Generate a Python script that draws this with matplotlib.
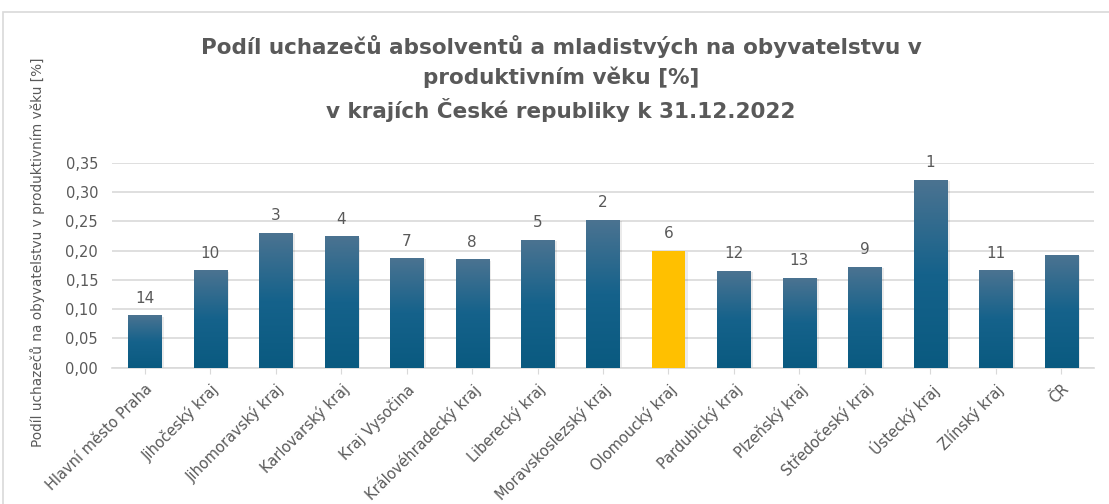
import numpy as np
import matplotlib.pyplot as plt
from matplotlib.colors import LinearSegmentedColormap
from matplotlib.patches import Rectangle

# podil uchazecu (absolventi a mladistvi) na obyvatelstvu v produktivnim veku
kraje = ['Hlavní město Praha', 'Jihočeský kraj', 'Jihomoravský kraj', 'Karlovarský kraj',
         'Kraj Vysočina', 'Královéhradecký kraj', 'Liberecký kraj', 'Moravskoslezský kraj',
         'Olomoucký kraj', 'Pardubický kraj', 'Plzeňský kraj', 'Středočeský kraj',
         'Ústecký kraj', 'Zlínský kraj', 'ČR']
podil = [0.089, 0.166, 0.230, 0.224, 0.187, 0.185, 0.218, 0.252,
         0.200, 0.165, 0.153, 0.172, 0.321, 0.166, 0.192]
poradi = ['14', '10', '3', '4', '7', '8', '5', '2', '6', '12', '13', '9', '1', '11', '']
zvyraznit = 'Olomoucký kraj'

sedo = '#595959'
plt.rcParams['font.family'] = ['DejaVu Sans']

fig = plt.figure(figsize=(11.09, 5.04), dpi=100)
ax = fig.add_axes([0.101, 0.2704, 0.8855, 0.4067])

# ramecek grafu
fig.patches.append(Rectangle((0.003, -0.01), 1.1, 0.986, transform=fig.transFigure,
                             fill=False, edgecolor='#d9d9d9', linewidth=1.2))

x = np.arange(len(kraje))
sirka = 0.505
cmap = LinearSegmentedColormap.from_list('modra', ['#0a5a80', '#15628b', '#4b7391'])
grad = np.linspace(0, 1, 256).reshape(-1, 1)

bars = ax.bar(x, podil, width=sirka, color='none', zorder=3)
for b, kraj, r in zip(bars, kraje, poradi):
    x0, w, h = b.get_x(), b.get_width(), b.get_height()
    # jemny stin pod sloupcem
    ax.add_patch(Rectangle((x0 + 0.02, 0), w + 0.02, h - 0.002, facecolor='#000000',
                           alpha=0.08, edgecolor='none', zorder=2))
    if kraj == zvyraznit:
        ax.add_patch(Rectangle((x0, 0), w, h, facecolor='#ffc000', edgecolor='none', zorder=3))
    else:
        ax.imshow(grad, extent=(x0, x0 + w, 0, h), origin='lower', cmap=cmap,
                  aspect='auto', zorder=3)
    if r:
        ax.text(b.get_x() + w / 2, h + 0.0165, r, ha='center', va='bottom',
                fontsize=11, color=sedo)

ax.set_xlim(-0.5, len(kraje) - 0.5)
ax.set_ylim(0, 0.35)
ax.set_yticks(np.arange(0, 0.351, 0.05))
ax.set_yticklabels([f'{v:.2f}'.replace('.', ',') for v in np.arange(0, 0.351, 0.05)],
                   fontsize=10.5, color=sedo)
ax.set_xticks(x)
ax.set_xticklabels(kraje, rotation=45, ha='right', rotation_mode='anchor',
                   fontsize=10.5, color=sedo)
ax.tick_params(axis='y', length=0, pad=10)
ax.tick_params(axis='x', length=4, color='#d9d9d9', pad=6)
ax.grid(axis='y', color='#d9d9d9', linewidth=1.2, zorder=0)
ax.set_axisbelow(True)
for s in ['top', 'right', 'left']:
    ax.spines[s].set_visible(False)
ax.spines['bottom'].set_color('#d9d9d9')
ax.spines['bottom'].set_linewidth(1.2)

fig.text(0.034, 0.50, 'Podíl uchazečů na obyvatelstvu v produktivním věku [%]',
         rotation=90, ha='center', va='center', fontsize=9.8, color=sedo)

fig.text(0.506, 0.844, 'Podíl uchazečů absolventů a mladistvých na obyvatelstvu v\n'
         'produktivním věku [%]\nv krajích České republiky k 31.12.2022',
         ha='center', va='center', fontsize=15.5, fontweight='bold', color=sedo,
         linespacing=1.5)

plt.savefig('out.png', dpi=100)
